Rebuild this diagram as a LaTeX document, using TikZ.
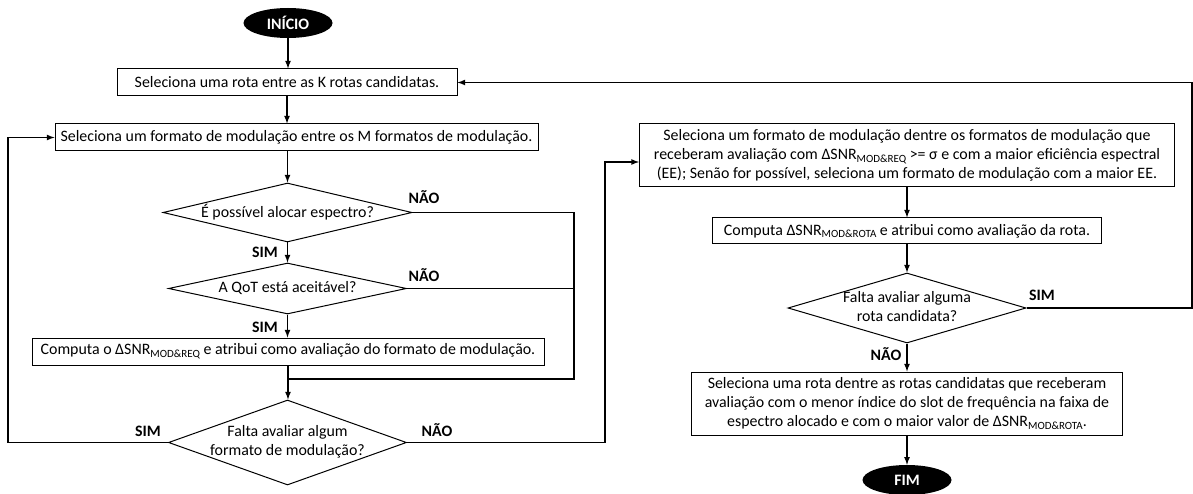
\documentclass[tikz,border=0pt]{standalone}
\usepackage{fontspec}
\setmainfont{Carlito}
\usetikzlibrary{arrows,shapes.geometric}

\newcommand{\dsnr}[1]{ΔSNR\raisebox{-0.35ex}{\fontsize{11}{11}\selectfont #1}}

\begin{document}
\begin{tikzpicture}[>=latex,x=1pt,y=-1pt,font=\fontsize{15.9}{19}\selectfont]

\tikzset{
  startstop/.style={ellipse,fill=black,text=white,font=\fontsize{15.9}{19}\selectfont\bfseries,
    minimum width=89pt,minimum height=30pt,inner sep=0pt},
  process/.style={rectangle,draw,line width=1pt,align=center,inner sep=0pt},
  decision/.style={diamond,draw,line width=1pt,inner sep=0pt},
  answer/.style={font=\fontsize{15.9}{19}\selectfont\bfseries,inner sep=0pt},
  flow/.style={line width=1.6pt}
}

\useasboundingbox (0,0) rectangle (1193,494);

\node[startstop] (inicio) at (288,23) {INÍCIO};
\node[process,minimum width=340pt,minimum height=27pt] (rota) at (287,82.5)
  {Seleciona uma rota entre as K rotas candidatas.};
\node[process,minimum width=483pt,minimum height=27pt] (modsel) at (296.5,137.5)
  {Seleciona um formato de modulação entre os M formatos de modulação.};
\node[decision,minimum width=249pt,minimum height=59pt,
  label=center:{É possível alocar espectro?}] (espectro) at (287.5,212.5) {};
\node[decision,minimum width=238pt,minimum height=51pt,
  label=center:{A QoT está aceitável?}] (qot) at (287.5,288.5) {};
\node[process,minimum width=512pt,minimum height=27pt] (computa) at (288,351.5)
  {Computa o \dsnr{MOD\&REQ} e atribui como avaliação do formato de modulação.};
\node[decision,minimum width=238pt,minimum height=85pt,
  label=center:{\begin{tabular}{c}Falta avaliar algum\\formato de modulação?\end{tabular}}]
  (falta) at (287.5,442.5) {};

\node[process,minimum width=535pt,minimum height=63pt] (melhor) at (907,155.5)
  {Seleciona um formato de modulação dentre os formatos de modulação que\\
   receberam avaliação com \dsnr{MOD\&REQ} >= σ e com a maior eficiência espectral\\
   (EE); Senão for possível, seleciona um formato de modulação com a maior EE.};
\node[process,minimum width=389pt,minimum height=26pt] (avalia) at (907,231)
  {Computa \dsnr{MOD\&ROTA} e atribui como avaliação da rota.};
\node[decision,minimum width=238pt,minimum height=70pt,
  label=center:{\begin{tabular}{c}Falta avaliar alguma\\rota candidata?\end{tabular}}]
  (faltarota) at (907,308) {};
\node[process,minimum width=431pt,minimum height=63pt] (escolhe) at (907,403.5)
  {Seleciona uma rota dentre as rotas candidatas que receberam\\
   avaliação com o menor índice do slot de frequência na faixa de\\
   espectro alocado e com o maior valor de \dsnr{MOD\&ROTA}.};
\node[startstop] (fim) at (907,480) {FIM};

\node[answer] (nao1) at (424,197) {NÃO};
\node[answer] (sim1) at (265,252) {SIM};
\node[answer] (nao2) at (424,275) {NÃO};
\node[answer] (sim2) at (265,327) {SIM};
\node[answer] (sim3) at (148,431) {SIM};
\node[answer] (nao3) at (437,430) {NÃO};
\node[answer] (sim4) at (1042,295) {SIM};
\node[answer] (nao4) at (886,354) {NÃO};

\coordinate (junr) at (574,379);
\coordinate (junl) at (288,379);
\coordinate (loopl) at (8,137.5);
\coordinate (loopr) at (605,162);
\coordinate (borda) at (1192,82.5);

\draw[flow,->] (inicio.south) -- (inicio.south |- rota.north);
\draw[flow,->] (rota.south) -- (rota.south |- modsel.north);
\draw[flow,->] (espectro.north |- modsel.south) -- (espectro.north);
\draw[flow,->] (espectro.south) -- (qot.north);
\draw[flow,->] (qot.south) -- (qot.south |- computa.north);
\draw[flow] (espectro.east) -| (junr) -- (junl);
\draw[flow] (qot.east) -- (qot.east -| junr);
\draw[flow,->] (computa.south) -- (computa.south |- falta.north);
\draw[flow,->] (falta.west) -| (loopl) -- (modsel.west);
\draw[flow,->] (falta.east) -| (loopr) -- (loopr -| melhor.west);

\draw[flow,->] (melhor.south) -- (avalia.north);
\draw[flow,->] (avalia.south) -- (faltarota.north);
\draw[flow,->] (faltarota.east) -| (borda) -- (rota.east);
\draw[flow,->] (faltarota.south) -- (escolhe.north);
\draw[flow,->] (escolhe.south) -- (fim.north);

\end{tikzpicture}
\end{document}
